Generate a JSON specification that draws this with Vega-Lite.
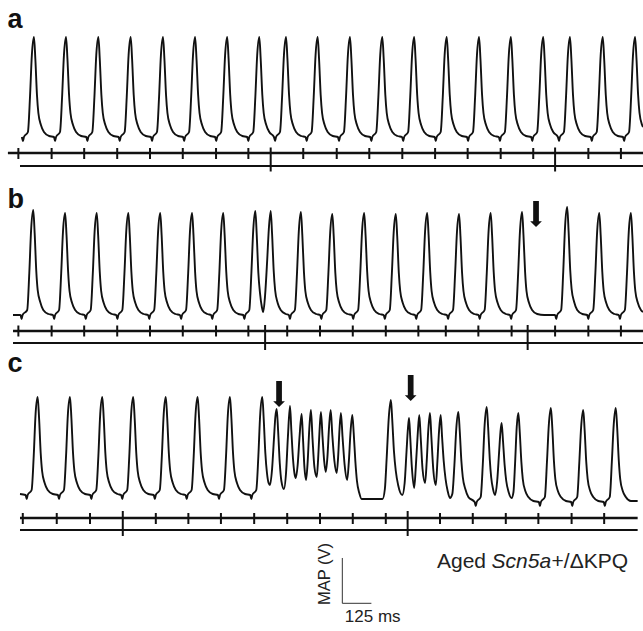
{
"$schema": "https://vega.github.io/schema/vega-lite/v6.json",
"padding": 0,
"spacing": 0,
"bounds": "flush",
"background": "white",
"config": {"view": {"stroke": null}, "font": "Liberation Sans"},
"datasets": {
"ta": [
{"t":94,"v":0},{"t":99,"v":-4},{"t":103,"v":0},{"t":120,"v":5},{"t":129,"v":40},{"t":137,"v":82},{"t":146,"v":100},{"t":152,"v":78},{"t":159,"v":42},{"t":165,"v":24},{"t":176,"v":12},{"t":189,"v":5},{"t":211,"v":1},
{"t":232,"v":0},{"t":237,"v":-4},{"t":241,"v":0},{"t":258,"v":5},{"t":267,"v":40},{"t":275,"v":82},{"t":284,"v":100},{"t":290,"v":78},{"t":297,"v":42},{"t":303,"v":24},{"t":314,"v":12},{"t":327,"v":5},{"t":349,"v":1},
{"t":371,"v":0},{"t":376,"v":-4},{"t":380,"v":0},{"t":397,"v":5},{"t":406,"v":40},{"t":414,"v":82},{"t":423,"v":100},{"t":429,"v":78},{"t":436,"v":42},{"t":442,"v":24},{"t":453,"v":12},{"t":466,"v":5},{"t":488,"v":1},
{"t":510,"v":0},{"t":515,"v":-4},{"t":519,"v":0},{"t":536,"v":5},{"t":545,"v":40},{"t":553,"v":82},{"t":562,"v":100},{"t":568,"v":78},{"t":575,"v":42},{"t":581,"v":24},{"t":592,"v":12},{"t":605,"v":5},{"t":627,"v":1},
{"t":649,"v":0},{"t":654,"v":-4},{"t":658,"v":0},{"t":675,"v":5},{"t":684,"v":40},{"t":692,"v":82},{"t":701,"v":100},{"t":707,"v":78},{"t":714,"v":42},{"t":720,"v":24},{"t":731,"v":12},{"t":744,"v":5},{"t":766,"v":1},
{"t":787,"v":0},{"t":792,"v":-4},{"t":796,"v":0},{"t":813,"v":5},{"t":822,"v":40},{"t":830,"v":82},{"t":839,"v":100},{"t":845,"v":78},{"t":852,"v":42},{"t":858,"v":24},{"t":869,"v":12},{"t":882,"v":5},{"t":904,"v":1},
{"t":925,"v":0},{"t":930,"v":-4},{"t":934,"v":0},{"t":951,"v":5},{"t":960,"v":40},{"t":968,"v":82},{"t":977,"v":100},{"t":983,"v":78},{"t":990,"v":42},{"t":996,"v":24},{"t":1007,"v":12},{"t":1020,"v":5},{"t":1042,"v":1},
{"t":1063,"v":0},{"t":1068,"v":-4},{"t":1072,"v":0},{"t":1089,"v":5},{"t":1098,"v":40},{"t":1106,"v":82},{"t":1115,"v":100},{"t":1121,"v":78},{"t":1128,"v":42},{"t":1134,"v":24},{"t":1145,"v":12},{"t":1158,"v":5},
{"t":1178,"v":0},{"t":1183,"v":-4},{"t":1187,"v":0},{"t":1204,"v":5},{"t":1213,"v":40},{"t":1221,"v":82},{"t":1230,"v":100},{"t":1236,"v":78},{"t":1243,"v":42},{"t":1249,"v":24},{"t":1260,"v":12},{"t":1273,"v":5},{"t":1295,"v":1},
{"t":1314,"v":0},{"t":1319,"v":-4},{"t":1323,"v":0},{"t":1340,"v":5},{"t":1349,"v":40},{"t":1357,"v":82},{"t":1366,"v":100},{"t":1372,"v":78},{"t":1379,"v":42},{"t":1385,"v":24},{"t":1396,"v":12},{"t":1409,"v":5},{"t":1431,"v":1},
{"t":1453,"v":0},{"t":1458,"v":-4},{"t":1462,"v":0},{"t":1479,"v":5},{"t":1488,"v":40},{"t":1496,"v":82},{"t":1505,"v":100},{"t":1511,"v":78},{"t":1518,"v":42},{"t":1524,"v":24},{"t":1535,"v":12},{"t":1548,"v":5},{"t":1570,"v":1},
{"t":1592,"v":0},{"t":1597,"v":-4},{"t":1601,"v":0},{"t":1618,"v":5},{"t":1627,"v":40},{"t":1635,"v":82},{"t":1644,"v":100},{"t":1650,"v":78},{"t":1657,"v":42},{"t":1663,"v":24},{"t":1674,"v":12},{"t":1687,"v":5},{"t":1709,"v":1},
{"t":1729,"v":0},{"t":1734,"v":-4},{"t":1738,"v":0},{"t":1755,"v":5},{"t":1764,"v":40},{"t":1772,"v":82},{"t":1781,"v":100},{"t":1787,"v":78},{"t":1794,"v":42},{"t":1800,"v":24},{"t":1811,"v":12},{"t":1824,"v":5},{"t":1846,"v":1},
{"t":1869,"v":0},{"t":1874,"v":-4},{"t":1878,"v":0},{"t":1895,"v":5},{"t":1904,"v":40},{"t":1912,"v":82},{"t":1921,"v":100},{"t":1927,"v":78},{"t":1934,"v":42},{"t":1940,"v":24},{"t":1951,"v":12},{"t":1964,"v":5},{"t":1986,"v":1},
{"t":2008,"v":0},{"t":2013,"v":-4},{"t":2017,"v":0},{"t":2034,"v":5},{"t":2043,"v":40},{"t":2051,"v":82},{"t":2060,"v":100},{"t":2066,"v":78},{"t":2073,"v":42},{"t":2079,"v":24},{"t":2090,"v":12},{"t":2103,"v":5},{"t":2125,"v":1},
{"t":2145,"v":0},{"t":2150,"v":-4},{"t":2154,"v":0},{"t":2171,"v":5},{"t":2180,"v":40},{"t":2188,"v":82},{"t":2197,"v":100},{"t":2203,"v":78},{"t":2210,"v":42},{"t":2216,"v":24},{"t":2227,"v":12},{"t":2240,"v":5},{"t":2262,"v":1},
{"t":2284,"v":0},{"t":2289,"v":-4},{"t":2293,"v":0},{"t":2310,"v":5},{"t":2319,"v":40},{"t":2327,"v":82},{"t":2336,"v":100},{"t":2342,"v":78},{"t":2349,"v":42},{"t":2355,"v":24},{"t":2366,"v":12},{"t":2379,"v":5},
{"t":2399,"v":0},{"t":2404,"v":-4},{"t":2408,"v":0},{"t":2425,"v":5},{"t":2434,"v":40},{"t":2442,"v":82},{"t":2451,"v":100},{"t":2457,"v":78},{"t":2464,"v":42},{"t":2470,"v":24},{"t":2481,"v":12},{"t":2494,"v":5},{"t":2516,"v":1},
{"t":2540,"v":0},{"t":2545,"v":-4},{"t":2549,"v":0},{"t":2566,"v":5},{"t":2575,"v":40},{"t":2583,"v":82},{"t":2592,"v":100},{"t":2598,"v":78},{"t":2605,"v":42},{"t":2611,"v":24},{"t":2622,"v":12},{"t":2635,"v":5},{"t":2657,"v":1},
{"t":2679,"v":0},{"t":2684,"v":-4},{"t":2688,"v":0},{"t":2705,"v":5},{"t":2714,"v":40},{"t":2722,"v":82},{"t":2731,"v":100},{"t":2737,"v":78},{"t":2744,"v":42},{"t":2750,"v":24},{"t":2761,"v":12},{"t":2765,"v":10}
],
"tb": [
{"t":56,"v":0},{"t":88,"v":0},{"t":93,"v":-4},{"t":97,"v":0},{"t":117,"v":5},{"t":126,"v":42},{"t":134,"v":86},{"t":143,"v":105},{"t":149,"v":82},{"t":156,"v":44},{"t":162,"v":25},{"t":173,"v":13},{"t":186,"v":5},{"t":208,"v":1},
{"t":228,"v":0},{"t":233,"v":-4},{"t":237,"v":0},{"t":254,"v":5},{"t":263,"v":41},{"t":271,"v":84},{"t":280,"v":102},{"t":286,"v":80},{"t":293,"v":43},{"t":299,"v":24},{"t":310,"v":12},{"t":323,"v":5},{"t":345,"v":1},
{"t":364,"v":0},{"t":369,"v":-4},{"t":373,"v":0},{"t":390,"v":5},{"t":399,"v":41},{"t":407,"v":84},{"t":416,"v":102},{"t":422,"v":80},{"t":429,"v":43},{"t":435,"v":24},{"t":446,"v":12},{"t":459,"v":5},{"t":481,"v":1},
{"t":500,"v":0},{"t":505,"v":-4},{"t":509,"v":0},{"t":526,"v":5},{"t":535,"v":41},{"t":543,"v":84},{"t":552,"v":102},{"t":558,"v":80},{"t":565,"v":43},{"t":571,"v":24},{"t":582,"v":12},{"t":595,"v":5},{"t":617,"v":1},
{"t":637,"v":0},{"t":642,"v":-4},{"t":646,"v":0},{"t":663,"v":5},{"t":672,"v":41},{"t":680,"v":84},{"t":689,"v":102},{"t":695,"v":80},{"t":702,"v":43},{"t":708,"v":24},{"t":719,"v":12},{"t":732,"v":5},{"t":754,"v":1},
{"t":774,"v":0},{"t":779,"v":-4},{"t":783,"v":0},{"t":800,"v":5},{"t":809,"v":41},{"t":817,"v":84},{"t":826,"v":102},{"t":832,"v":80},{"t":839,"v":43},{"t":845,"v":24},{"t":856,"v":12},{"t":869,"v":5},{"t":891,"v":1},
{"t":908,"v":0},{"t":913,"v":-4},{"t":917,"v":0},{"t":934,"v":5},{"t":943,"v":41},{"t":951,"v":84},{"t":960,"v":102},{"t":966,"v":80},{"t":973,"v":43},{"t":979,"v":24},{"t":990,"v":12},{"t":1003,"v":5},{"t":1025,"v":1},
{"t":1046,"v":0},{"t":1051,"v":-4},{"t":1055,"v":0},{"t":1072,"v":5},{"t":1081,"v":42},{"t":1089,"v":85},{"t":1098,"v":104},{"t":1104,"v":80},{"t":1111,"v":42},{"t":1118,"v":22},{"t":1126,"v":8},{"t":1132,"v":3},
{"t":1140,"v":20},{"t":1149,"v":55},{"t":1156,"v":86},{"t":1164,"v":104},{"t":1170,"v":81},{"t":1177,"v":44},{"t":1183,"v":25},{"t":1194,"v":12},{"t":1207,"v":5},{"t":1229,"v":1},
{"t":1242,"v":0},{"t":1247,"v":-4},{"t":1251,"v":0},{"t":1268,"v":5},{"t":1277,"v":41},{"t":1285,"v":84},{"t":1294,"v":103},{"t":1300,"v":80},{"t":1307,"v":43},{"t":1313,"v":24},{"t":1324,"v":12},{"t":1337,"v":5},{"t":1359,"v":1},
{"t":1377,"v":0},{"t":1382,"v":-4},{"t":1386,"v":0},{"t":1403,"v":5},{"t":1412,"v":41},{"t":1420,"v":83},{"t":1429,"v":101},{"t":1435,"v":79},{"t":1442,"v":42},{"t":1448,"v":24},{"t":1459,"v":12},{"t":1472,"v":5},{"t":1494,"v":1},
{"t":1514,"v":0},{"t":1519,"v":-4},{"t":1523,"v":0},{"t":1540,"v":5},{"t":1549,"v":41},{"t":1557,"v":84},{"t":1566,"v":102},{"t":1572,"v":80},{"t":1579,"v":43},{"t":1585,"v":24},{"t":1596,"v":12},{"t":1609,"v":5},{"t":1631,"v":1},
{"t":1650,"v":0},{"t":1655,"v":-4},{"t":1659,"v":0},{"t":1676,"v":5},{"t":1685,"v":41},{"t":1693,"v":83},{"t":1702,"v":101},{"t":1708,"v":79},{"t":1715,"v":42},{"t":1721,"v":24},{"t":1732,"v":12},{"t":1745,"v":5},{"t":1767,"v":1},
{"t":1785,"v":0},{"t":1790,"v":-4},{"t":1794,"v":0},{"t":1811,"v":5},{"t":1820,"v":41},{"t":1828,"v":84},{"t":1837,"v":102},{"t":1843,"v":80},{"t":1850,"v":43},{"t":1856,"v":24},{"t":1867,"v":12},{"t":1880,"v":5},{"t":1902,"v":1},
{"t":1922,"v":0},{"t":1927,"v":-4},{"t":1931,"v":0},{"t":1948,"v":5},{"t":1957,"v":41},{"t":1965,"v":83},{"t":1974,"v":101},{"t":1980,"v":79},{"t":1987,"v":42},{"t":1993,"v":24},{"t":2004,"v":12},{"t":2017,"v":5},{"t":2039,"v":1},
{"t":2058,"v":0},{"t":2063,"v":-4},{"t":2067,"v":0},{"t":2084,"v":5},{"t":2093,"v":41},{"t":2101,"v":84},{"t":2110,"v":102},{"t":2116,"v":80},{"t":2123,"v":43},{"t":2129,"v":24},{"t":2140,"v":12},{"t":2153,"v":5},{"t":2175,"v":1},
{"t":2193,"v":0},{"t":2198,"v":-4},{"t":2202,"v":0},{"t":2219,"v":5},{"t":2228,"v":41},{"t":2236,"v":84},{"t":2245,"v":103},{"t":2251,"v":80},{"t":2258,"v":43},{"t":2264,"v":24},{"t":2275,"v":12},{"t":2288,"v":5},{"t":2310,"v":1},
{"t":2340,"v":0},{"t":2370,"v":0},
{"t":2387,"v":0},{"t":2392,"v":-4},{"t":2396,"v":0},{"t":2413,"v":5},{"t":2422,"v":43},{"t":2430,"v":89},{"t":2439,"v":108},{"t":2445,"v":84},{"t":2452,"v":45},{"t":2458,"v":26},{"t":2469,"v":13},{"t":2482,"v":5},{"t":2504,"v":1},
{"t":2525,"v":0},{"t":2530,"v":-4},{"t":2534,"v":0},{"t":2551,"v":5},{"t":2560,"v":41},{"t":2568,"v":84},{"t":2577,"v":102},{"t":2583,"v":80},{"t":2590,"v":43},{"t":2596,"v":24},{"t":2607,"v":12},{"t":2620,"v":5},{"t":2642,"v":1},
{"t":2661,"v":0},{"t":2666,"v":-4},{"t":2670,"v":0},{"t":2687,"v":5},{"t":2696,"v":41},{"t":2704,"v":84},{"t":2713,"v":102},{"t":2719,"v":80},{"t":2726,"v":43},{"t":2732,"v":24},{"t":2743,"v":12},{"t":2756,"v":5},{"t":2765,"v":3}
],
"tc": [
{"t":86,"v":3},{"t":110,"v":2},{"t":115,"v":-2},{"t":119,"v":2},{"t":136,"v":7},{"t":145,"v":41},{"t":153,"v":83},{"t":162,"v":100},{"t":168,"v":79},{"t":175,"v":44},{"t":181,"v":26},{"t":192,"v":14},{"t":205,"v":7},{"t":227,"v":3},
{"t":249,"v":2},{"t":254,"v":-2},{"t":258,"v":2},{"t":275,"v":7},{"t":284,"v":41},{"t":292,"v":83},{"t":301,"v":100},{"t":307,"v":79},{"t":314,"v":44},{"t":320,"v":26},{"t":331,"v":14},{"t":344,"v":7},{"t":366,"v":3},
{"t":388,"v":2},{"t":393,"v":-2},{"t":397,"v":2},{"t":414,"v":7},{"t":423,"v":41},{"t":431,"v":83},{"t":440,"v":100},{"t":446,"v":79},{"t":453,"v":44},{"t":459,"v":26},{"t":470,"v":14},{"t":483,"v":7},{"t":505,"v":3},
{"t":521,"v":2},{"t":526,"v":-2},{"t":530,"v":2},{"t":547,"v":7},{"t":556,"v":41},{"t":564,"v":83},{"t":573,"v":100},{"t":579,"v":79},{"t":586,"v":44},{"t":592,"v":26},{"t":603,"v":14},{"t":616,"v":7},{"t":638,"v":3},
{"t":661,"v":2},{"t":666,"v":-2},{"t":670,"v":2},{"t":687,"v":7},{"t":696,"v":41},{"t":704,"v":83},{"t":713,"v":100},{"t":719,"v":79},{"t":726,"v":44},{"t":732,"v":26},{"t":743,"v":14},{"t":756,"v":7},{"t":778,"v":3},
{"t":798,"v":2},{"t":803,"v":-2},{"t":807,"v":2},{"t":824,"v":7},{"t":833,"v":41},{"t":841,"v":83},{"t":850,"v":100},{"t":856,"v":79},{"t":863,"v":44},{"t":869,"v":26},{"t":880,"v":14},{"t":893,"v":7},{"t":915,"v":3},
{"t":937,"v":2},{"t":942,"v":-2},{"t":946,"v":2},{"t":963,"v":7},{"t":972,"v":41},{"t":980,"v":83},{"t":989,"v":100},{"t":995,"v":79},{"t":1002,"v":44},{"t":1008,"v":26},{"t":1019,"v":14},{"t":1032,"v":7},{"t":1054,"v":3},
{"t":1076,"v":2},{"t":1081,"v":-2},{"t":1085,"v":2},{"t":1102,"v":7},{"t":1111,"v":41},{"t":1119,"v":83},{"t":1128,"v":100},{"t":1134,"v":78},{"t":1141,"v":44},{"t":1148,"v":24},{"t":1155,"v":14},{"t":1161,"v":12},
{"t":1170,"v":28},{"t":1178,"v":58},{"t":1184,"v":80},{"t":1190,"v":88},{"t":1196,"v":66},{"t":1203,"v":34},{"t":1210,"v":16},{"t":1221,"v":8},
{"t":1230,"v":24},{"t":1238,"v":60},{"t":1247,"v":91},{"t":1253,"v":66},{"t":1260,"v":38},{"t":1266,"v":24},{"t":1272,"v":19},
{"t":1280,"v":32},{"t":1288,"v":60},{"t":1297,"v":83},{"t":1303,"v":58},{"t":1309,"v":30},{"t":1316,"v":17},
{"t":1323,"v":35},{"t":1330,"v":68},{"t":1337,"v":87},{"t":1344,"v":58},{"t":1352,"v":30},{"t":1362,"v":20},
{"t":1368,"v":38},{"t":1374,"v":66},{"t":1380,"v":85},{"t":1387,"v":60},{"t":1394,"v":36},{"t":1401,"v":25},
{"t":1408,"v":40},{"t":1415,"v":70},{"t":1422,"v":87},{"t":1429,"v":62},{"t":1438,"v":36},{"t":1448,"v":24},
{"t":1454,"v":40},{"t":1460,"v":68},{"t":1466,"v":84},{"t":1473,"v":60},{"t":1482,"v":32},{"t":1493,"v":17},
{"t":1500,"v":35},{"t":1507,"v":64},{"t":1515,"v":82},{"t":1521,"v":64},{"t":1528,"v":36},{"t":1535,"v":16},{"t":1545,"v":4},{"t":1555,"v":-2},{"t":1600,"v":-2},{"t":1645,"v":-2},
{"t":1655,"v":8},{"t":1663,"v":40},{"t":1672,"v":80},{"t":1681,"v":97},{"t":1687,"v":76},{"t":1694,"v":46},{"t":1702,"v":26},{"t":1712,"v":12},{"t":1730,"v":2},
{"t":1740,"v":14},{"t":1748,"v":45},{"t":1754,"v":68},{"t":1759,"v":79},{"t":1764,"v":60},{"t":1771,"v":30},{"t":1781,"v":9},
{"t":1788,"v":30},{"t":1796,"v":62},{"t":1803,"v":82},{"t":1809,"v":60},{"t":1817,"v":28},{"t":1828,"v":14},
{"t":1835,"v":36},{"t":1842,"v":68},{"t":1849,"v":84},{"t":1855,"v":60},{"t":1863,"v":28},{"t":1874,"v":12},
{"t":1881,"v":36},{"t":1888,"v":66},{"t":1895,"v":82},{"t":1901,"v":60},{"t":1908,"v":36},{"t":1916,"v":18},{"t":1925,"v":6},{"t":1935,"v":-1},
{"t":1945,"v":3},{"t":1954,"v":32},{"t":1962,"v":68},{"t":1971,"v":85},{"t":1977,"v":66},{"t":1984,"v":36},{"t":1990,"v":20},{"t":2001,"v":8},{"t":2014,"v":0},
{"t":2041,"v":-5},{"t":2046,"v":-9},{"t":2050,"v":-5},{"t":2067,"v":0},{"t":2076,"v":32},{"t":2084,"v":72},{"t":2093,"v":90},{"t":2099,"v":70},{"t":2106,"v":38},{"t":2112,"v":20},{"t":2120,"v":8},{"t":2129,"v":2},
{"t":2138,"v":16},{"t":2146,"v":44},{"t":2152,"v":65},{"t":2157,"v":74},{"t":2163,"v":56},{"t":2170,"v":32},{"t":2177,"v":16},{"t":2187,"v":5},{"t":2200,"v":-1},
{"t":2208,"v":5},{"t":2215,"v":34},{"t":2222,"v":70},{"t":2229,"v":84},{"t":2235,"v":65},{"t":2242,"v":35},{"t":2248,"v":18},{"t":2259,"v":6},{"t":2272,"v":0},{"t":2294,"v":-4},
{"t":2317,"v":-5},{"t":2322,"v":-9},{"t":2326,"v":-5},{"t":2343,"v":0},{"t":2352,"v":35},{"t":2360,"v":72},{"t":2369,"v":89},{"t":2375,"v":69},{"t":2382,"v":36},{"t":2388,"v":18},{"t":2399,"v":6},{"t":2412,"v":0},{"t":2434,"v":-4},
{"t":2456,"v":-5},{"t":2461,"v":-9},{"t":2465,"v":-5},{"t":2482,"v":0},{"t":2491,"v":34},{"t":2499,"v":70},{"t":2508,"v":87},{"t":2514,"v":67},{"t":2521,"v":35},{"t":2527,"v":18},{"t":2538,"v":6},{"t":2551,"v":0},{"t":2573,"v":-4},
{"t":2596,"v":-5},{"t":2601,"v":-9},{"t":2605,"v":-5},{"t":2622,"v":0},{"t":2631,"v":35},{"t":2639,"v":72},{"t":2648,"v":89},{"t":2654,"v":69},{"t":2661,"v":36},{"t":2667,"v":18},{"t":2678,"v":6},{"t":2691,"v":0},{"t":2713,"v":-4},{"t":2742,"v":-4}
],
"ka": [
{"t":79,"k":"s"},{"t":222,"k":"s"},{"t":362,"k":"s"},{"t":504,"k":"s"},{"t":645,"k":"s"},{"t":786,"k":"s"},{"t":929,"k":"s"},{"t":1068,"k":"s"},{"t":1164,"k":"b"},{"t":1304,"k":"s"},{"t":1448,"k":"s"},{"t":1588,"k":"s"},{"t":1730,"k":"s"},{"t":1871,"k":"s"},{"t":2011,"k":"s"},{"t":2153,"k":"s"},{"t":2293,"k":"s"},{"t":2387,"k":"b"},{"t":2530,"k":"s"},{"t":2670,"k":"s"}
],
"kb": [
{"t":79,"k":"s"},{"t":222,"k":"s"},{"t":362,"k":"s"},{"t":504,"k":"s"},{"t":645,"k":"s"},{"t":786,"k":"s"},{"t":929,"k":"s"},{"t":1068,"k":"s"},{"t":1140,"k":"b"},{"t":1235,"k":"s"},{"t":1376,"k":"s"},{"t":1517,"k":"s"},{"t":1659,"k":"s"},{"t":1799,"k":"s"},{"t":1917,"k":"s"},{"t":2057,"k":"s"},{"t":2200,"k":"s"},{"t":2269,"k":"b"},{"t":2387,"k":"s"},{"t":2530,"k":"s"},{"t":2670,"k":"s"}
],
"kc": [
{"t":98,"k":"s"},{"t":244,"k":"s"},{"t":387,"k":"s"},{"t":528,"k":"b"},{"t":670,"k":"s"},{"t":810,"k":"s"},{"t":950,"k":"s"},{"t":1093,"k":"s"},{"t":1235,"k":"s"},{"t":1376,"k":"s"},{"t":1517,"k":"s"},{"t":1659,"k":"s"},{"t":1753,"k":"b"},{"t":1892,"k":"s"},{"t":2033,"k":"s"},{"t":2175,"k":"s"},{"t":2315,"k":"s"},{"t":2458,"k":"s"},{"t":2598,"k":"s"}
],
"ab": [{"t":2305,"v":101}],
"ac": [{"t":1200,"v":103},{"t":1766,"v":109}]
},
"vconcat": [
{
"width": 643, "height": 178,
"layer": [
{"data": {"name": "ta"}, "mark": {"type": "line", "interpolate": "monotone", "color": "#111", "strokeWidth": 1.9},
 "encoding": {"x": {"field": "t", "type": "quantitative", "scale": {"domain": [0, 2765], "nice": false, "zero": false}, "axis": null},
              "y": {"field": "v", "type": "quantitative", "scale": {"domain": [-41, 137], "nice": false, "zero": false}, "axis": null}}},
{"data": {"values": [{}]}, "mark": {"type": "rule", "color": "#111", "strokeWidth": 2.6},
 "encoding": {"x": {"datum": 34, "type": "quantitative", "scale": {"domain": [0, 2765], "nice": false, "zero": false}, "axis": null}, "x2": {"datum": 2765},
              "y": {"datum": -16, "type": "quantitative", "scale": {"domain": [-41, 137], "nice": false, "zero": false}, "axis": null}}},
{"data": {"values": [{}]}, "mark": {"type": "rule", "color": "#111", "strokeWidth": 2.2},
 "encoding": {"x": {"datum": 86, "type": "quantitative", "scale": {"domain": [0, 2765], "nice": false, "zero": false}, "axis": null}, "x2": {"datum": 2765},
              "y": {"datum": -29, "type": "quantitative", "scale": {"domain": [-41, 137], "nice": false, "zero": false}, "axis": null}}},
{"data": {"name": "ka"}, "transform": [{"filter": "datum.k == 's'"}], "mark": {"type": "rule", "color": "#111", "strokeWidth": 2},
 "encoding": {"x": {"field": "t", "type": "quantitative", "scale": {"domain": [0, 2765], "nice": false, "zero": false}, "axis": null},
              "y": {"datum": -11, "type": "quantitative", "scale": {"domain": [-41, 137], "nice": false, "zero": false}, "axis": null}, "y2": {"datum": -22}}},
{"data": {"name": "ka"}, "transform": [{"filter": "datum.k == 'b'"}], "mark": {"type": "rule", "color": "#111", "strokeWidth": 2},
 "encoding": {"x": {"field": "t", "type": "quantitative", "scale": {"domain": [0, 2765], "nice": false, "zero": false}, "axis": null},
              "y": {"datum": -10.5, "type": "quantitative", "scale": {"domain": [-41, 137], "nice": false, "zero": false}, "axis": null}, "y2": {"datum": -34.5}}},
{"data": {"values": [{}]}, "mark": {"type": "text", "text": "a", "fontSize": 27, "fontWeight": "bold", "font": "Liberation Sans", "align": "left", "baseline": "alphabetic", "color": "#111"},
 "encoding": {"x": {"datum": 32, "type": "quantitative", "scale": {"domain": [0, 2765], "nice": false, "zero": false}, "axis": null},
              "y": {"datum": 109, "type": "quantitative", "scale": {"domain": [-41, 137], "nice": false, "zero": false}, "axis": null}}}
]
},
{
"width": 643, "height": 174,
"layer": [
{"data": {"name": "tb"}, "mark": {"type": "line", "interpolate": "monotone", "color": "#111", "strokeWidth": 1.9},
 "encoding": {"x": {"field": "t", "type": "quantitative", "scale": {"domain": [0, 2765], "nice": false, "zero": false}, "axis": null},
              "y": {"field": "v", "type": "quantitative", "scale": {"domain": [-37, 137], "nice": false, "zero": false}, "axis": null}}},
{"data": {"values": [{}]}, "mark": {"type": "rule", "color": "#111", "strokeWidth": 2.6},
 "encoding": {"x": {"datum": 56, "type": "quantitative", "scale": {"domain": [0, 2765], "nice": false, "zero": false}, "axis": null}, "x2": {"datum": 2765},
              "y": {"datum": -16, "type": "quantitative", "scale": {"domain": [-37, 137], "nice": false, "zero": false}, "axis": null}}},
{"data": {"values": [{}]}, "mark": {"type": "rule", "color": "#111", "strokeWidth": 2.2},
 "encoding": {"x": {"datum": 56, "type": "quantitative", "scale": {"domain": [0, 2765], "nice": false, "zero": false}, "axis": null}, "x2": {"datum": 2765},
              "y": {"datum": -28, "type": "quantitative", "scale": {"domain": [-37, 137], "nice": false, "zero": false}, "axis": null}}},
{"data": {"name": "kb"}, "transform": [{"filter": "datum.k == 's'"}], "mark": {"type": "rule", "color": "#111", "strokeWidth": 2},
 "encoding": {"x": {"field": "t", "type": "quantitative", "scale": {"domain": [0, 2765], "nice": false, "zero": false}, "axis": null},
              "y": {"datum": -10.5, "type": "quantitative", "scale": {"domain": [-37, 137], "nice": false, "zero": false}, "axis": null}, "y2": {"datum": -21.5}}},
{"data": {"name": "kb"}, "transform": [{"filter": "datum.k == 'b'"}], "mark": {"type": "rule", "color": "#111", "strokeWidth": 2},
 "encoding": {"x": {"field": "t", "type": "quantitative", "scale": {"domain": [0, 2765], "nice": false, "zero": false}, "axis": null},
              "y": {"datum": -10, "type": "quantitative", "scale": {"domain": [-37, 137], "nice": false, "zero": false}, "axis": null}, "y2": {"datum": -35}}},
{"data": {"name": "ab"}, "mark": {"type": "point", "shape": "M-0.22,-1L0.22,-1L0.22,0.55L0.45,0.55L0,1L-0.45,0.55L-0.22,0.55Z", "size": 676, "filled": true, "color": "#111", "opacity": 1},
 "encoding": {"x": {"field": "t", "type": "quantitative", "scale": {"domain": [0, 2765], "nice": false, "zero": false}, "axis": null},
              "y": {"field": "v", "type": "quantitative", "scale": {"domain": [-37, 137], "nice": false, "zero": false}, "axis": null}}},
{"data": {"values": [{}]}, "mark": {"type": "text", "text": "b", "fontSize": 27, "fontWeight": "bold", "font": "Liberation Sans", "align": "left", "baseline": "alphabetic", "color": "#111"},
 "encoding": {"x": {"datum": 32, "type": "quantitative", "scale": {"domain": [0, 2765], "nice": false, "zero": false}, "axis": null},
              "y": {"datum": 107, "type": "quantitative", "scale": {"domain": [-37, 137], "nice": false, "zero": false}, "axis": null}}}
]
},
{
"width": 643, "height": 188,
"layer": [
{"data": {"name": "tc"}, "mark": {"type": "line", "interpolate": "monotone", "color": "#111", "strokeWidth": 1.9},
 "encoding": {"x": {"field": "t", "type": "quantitative", "scale": {"domain": [0, 2765], "nice": false, "zero": false}, "axis": null},
              "y": {"field": "v", "type": "quantitative", "scale": {"domain": [-43, 145], "nice": false, "zero": false}, "axis": null}}},
{"data": {"values": [{}]}, "mark": {"type": "rule", "color": "#111", "strokeWidth": 2.6},
 "encoding": {"x": {"datum": 86, "type": "quantitative", "scale": {"domain": [0, 2765], "nice": false, "zero": false}, "axis": null}, "x2": {"datum": 2742},
              "y": {"datum": -21, "type": "quantitative", "scale": {"domain": [-43, 145], "nice": false, "zero": false}, "axis": null}}},
{"data": {"values": [{}]}, "mark": {"type": "rule", "color": "#111", "strokeWidth": 2.2},
 "encoding": {"x": {"datum": 86, "type": "quantitative", "scale": {"domain": [0, 2765], "nice": false, "zero": false}, "axis": null}, "x2": {"datum": 2742},
              "y": {"datum": -33, "type": "quantitative", "scale": {"domain": [-43, 145], "nice": false, "zero": false}, "axis": null}}},
{"data": {"name": "kc"}, "transform": [{"filter": "datum.k == 's'"}], "mark": {"type": "rule", "color": "#111", "strokeWidth": 2},
 "encoding": {"x": {"field": "t", "type": "quantitative", "scale": {"domain": [0, 2765], "nice": false, "zero": false}, "axis": null},
              "y": {"datum": -16, "type": "quantitative", "scale": {"domain": [-43, 145], "nice": false, "zero": false}, "axis": null}, "y2": {"datum": -27}}},
{"data": {"name": "kc"}, "transform": [{"filter": "datum.k == 'b'"}], "mark": {"type": "rule", "color": "#111", "strokeWidth": 2},
 "encoding": {"x": {"field": "t", "type": "quantitative", "scale": {"domain": [0, 2765], "nice": false, "zero": false}, "axis": null},
              "y": {"datum": -14, "type": "quantitative", "scale": {"domain": [-43, 145], "nice": false, "zero": false}, "axis": null}, "y2": {"datum": -39}}},
{"data": {"name": "ac"}, "mark": {"type": "point", "shape": "M-0.22,-1L0.22,-1L0.22,0.55L0.45,0.55L0,1L-0.45,0.55L-0.22,0.55Z", "size": 676, "filled": true, "color": "#111", "opacity": 1},
 "encoding": {"x": {"field": "t", "type": "quantitative", "scale": {"domain": [0, 2765], "nice": false, "zero": false}, "axis": null},
              "y": {"field": "v", "type": "quantitative", "scale": {"domain": [-43, 145], "nice": false, "zero": false}, "axis": null}}},
{"data": {"values": [{}]}, "mark": {"type": "text", "text": "c", "fontSize": 27, "fontWeight": "bold", "font": "Liberation Sans", "align": "left", "baseline": "alphabetic", "color": "#111"},
 "encoding": {"x": {"datum": 32, "type": "quantitative", "scale": {"domain": [0, 2765], "nice": false, "zero": false}, "axis": null},
              "y": {"datum": 125, "type": "quantitative", "scale": {"domain": [-43, 145], "nice": false, "zero": false}, "axis": null}}}
]
},
{
"width": 643, "height": 91,
"layer": [
{"data": {"values": [{}]}, "mark": {"type": "rule", "color": "#333", "strokeWidth": 1},
 "encoding": {"x": {"datum": 1472, "type": "quantitative", "scale": {"domain": [0, 2765], "nice": false, "zero": false}, "axis": null},
              "y": {"datum": 27.7, "type": "quantitative", "scale": {"domain": [0, 91], "nice": false, "zero": false}, "axis": null}, "y2": {"datum": 73}}},
{"data": {"values": [{}]}, "mark": {"type": "rule", "color": "#333", "strokeWidth": 1},
 "encoding": {"x": {"datum": 1472, "type": "quantitative", "scale": {"domain": [0, 2765], "nice": false, "zero": false}, "axis": null}, "x2": {"datum": 1597},
              "y": {"datum": 27.7, "type": "quantitative", "scale": {"domain": [0, 91], "nice": false, "zero": false}, "axis": null}}},
{"data": {"values": [{}]}, "mark": {"type": "text", "text": "MAP (V)", "angle": 270, "fontSize": 16.5, "font": "Liberation Sans", "align": "center", "baseline": "middle", "color": "#222"},
 "encoding": {"x": {"datum": 1397, "type": "quantitative", "scale": {"domain": [0, 2765], "nice": false, "zero": false}, "axis": null},
              "y": {"datum": 57, "type": "quantitative", "scale": {"domain": [0, 91], "nice": false, "zero": false}, "axis": null}}},
{"data": {"values": [{}]}, "mark": {"type": "text", "text": "125 ms", "fontSize": 17, "font": "Liberation Sans", "align": "left", "baseline": "alphabetic", "color": "#222"},
 "encoding": {"x": {"datum": 1483, "type": "quantitative", "scale": {"domain": [0, 2765], "nice": false, "zero": false}, "axis": null},
              "y": {"datum": 9, "type": "quantitative", "scale": {"domain": [0, 91], "nice": false, "zero": false}, "axis": null}}},
{"data": {"values": [{}]}, "mark": {"type": "text", "text": "Aged", "fontSize": 21, "font": "Liberation Sans", "align": "left", "baseline": "alphabetic", "color": "#222"},
 "encoding": {"x": {"datum": 1879, "type": "quantitative", "scale": {"domain": [0, 2765], "nice": false, "zero": false}, "axis": null},
              "y": {"datum": 63, "type": "quantitative", "scale": {"domain": [0, 91], "nice": false, "zero": false}, "axis": null}}},
{"data": {"values": [{}]}, "mark": {"type": "text", "text": "Scn5a", "fontSize": 21, "fontStyle": "italic", "font": "Liberation Sans", "align": "left", "baseline": "alphabetic", "color": "#222"},
 "encoding": {"x": {"datum": 2114, "type": "quantitative", "scale": {"domain": [0, 2765], "nice": false, "zero": false}, "axis": null},
              "y": {"datum": 63, "type": "quantitative", "scale": {"domain": [0, 91], "nice": false, "zero": false}, "axis": null}}},
{"data": {"values": [{}]}, "mark": {"type": "text", "text": "+/ΔKPQ", "fontSize": 21, "font": "Liberation Sans", "align": "left", "baseline": "alphabetic", "color": "#222"},
 "encoding": {"x": {"datum": 2372, "type": "quantitative", "scale": {"domain": [0, 2765], "nice": false, "zero": false}, "axis": null},
              "y": {"datum": 63, "type": "quantitative", "scale": {"domain": [0, 91], "nice": false, "zero": false}, "axis": null}}}
]
}
]
}
